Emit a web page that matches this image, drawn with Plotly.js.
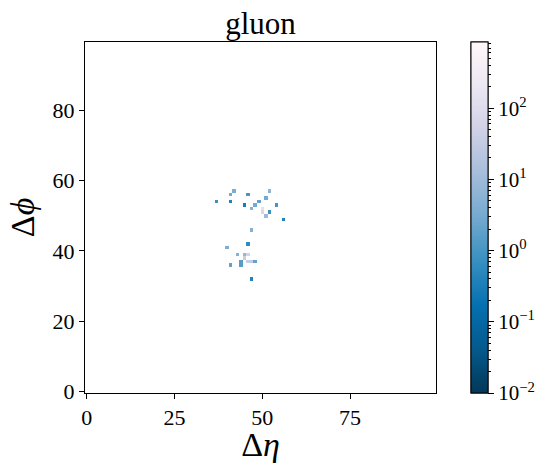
<!DOCTYPE html>
<html><head><meta charset="utf-8">
<script src="https://cdn.plot.ly/plotly-3.0.1.min.js"></script>
<style>html,body{margin:0;padding:0;background:#fff}</style>
</head><body><div id="chart" style="width:548px;height:463px"></div>
<script>
// Non-empty pixels of the jet image (column = Δη index, row = Δφ index)
const etaIdx    = [42, 41, 46, 52, 51, 37, 41, 49, 45, 48, 54, 47, 50, 50, 51, 52, 56, 47, 46, 40, 43, 45, 46, 45, 44, 44, 41, 46, 47, 48, 47];
const phiIdx    = [57, 56, 56, 57, 55, 54, 54, 54, 53, 53, 53, 52, 52, 51, 50, 51, 49, 46, 42, 41, 39, 39, 39, 38, 37, 36, 36, 37, 37, 37, 32];
const intensity = [4, 3, 1, 6, 3, 0.8, 0.4, 2, 0.3, 3, 1, 5, 150, 80, 10, 0.8, 0.4, 5, 0.6, 4, 5, 8, 60, 40, 1.5, 1.5, 2, 40, 30, 2, 0.4];
const gridSize = 100;
const xTickVals = [0, 25, 50, 75];
const yTickVals = [0, 20, 40, 60, 80];
const cbarMin = 0.01, cbarMax = 850;
const cbarMajorExp = [-2, -1, 0, 1, 2];
const cbarMajorText = ['10<sup>−2</sup>', '10<sup>−1</sup>', '10<sup>0</sup>', '10<sup>1</sup>', '10<sup>2</sup>'];
const pubuR = [
  [0.0, '#023858'], [0.125, '#045a8d'], [0.25, '#0570b0'], [0.375, '#3690c0'],
  [0.5, '#74a9cf'], [0.625, '#a6bddb'], [0.75, '#d0d1e6'], [0.875, '#ece7f2'], [1.0, '#fff7fb']
];

const z = [];
for (let r = 0; r < gridSize; r++) { const row = []; for (let c = 0; c < gridSize; c++) row.push(null); z.push(row); }
etaIdx.forEach((c, i) => { z[phiIdx[i]][c] = Math.log10(intensity[i]); });
const axisIdx = Array.from({length: gridSize}, (_, i) => i);

const zmin = Math.log10(cbarMin), zmax = Math.log10(cbarMax);
const minorVals = [];
for (let d = -2; d <= 2; d++) for (let k = 2; k <= 9; k++) { const v = Math.log10(k) + d; if (v <= zmax) minorVals.push(v); }

const FONT = 'Liberation Serif, Times New Roman, serif';
const cbBase = {x: 1.0998, xanchor: 'left', xpad: 0, ypad: 0, y: 0.5, yanchor: 'middle', len: 1, lenmode: 'fraction',
  thickness: 17, thicknessmode: 'pixels', outlinewidth: 1, outlinecolor: '#000', ticks: 'outside', tickcolor: '#000', tickwidth: 1,
  tickmode: 'array'};

const base = {type: 'heatmap', x: axisIdx, y: axisIdx, z: z, zmin: zmin, zmax: zmax, colorscale: pubuR,
  zsmooth: false, hoverinfo: 'skip', xgap: 0, ygap: 0};

const traces = [
  Object.assign({}, base, {showscale: true, colorbar: Object.assign({}, cbBase, {tickvals: minorVals, ticklen: 3, showticklabels: false})}),
  Object.assign({}, base, {showscale: true, colorbar: Object.assign({}, cbBase, {tickvals: cbarMajorExp, ticktext: cbarMajorText, ticklen: 6,
    tickfont: {family: FONT, size: 21, color: '#000'}})})
];

const axisCommon = {range: [-0.5, 99.5], showgrid: false, zeroline: false, showline: true, mirror: true, linecolor: '#000', linewidth: 1,
  ticks: 'outside', ticklen: 5, tickwidth: 1, tickcolor: '#000', tickmode: 'array', tickfont: {family: FONT, size: 22, color: '#000'}};

const layout = {
  width: 548, height: 463, paper_bgcolor: '#fff', plot_bgcolor: '#fff',
  margin: {l: 85, r: 112, t: 42, b: 70},
  title: {text: 'gluon', font: {family: FONT, size: 31, color: '#000'}, x: 0.5, xref: 'paper', y: 0.927, yref: 'container', yanchor: 'bottom'},
  xaxis: Object.assign({}, axisCommon, {tickvals: xTickVals, title: {text: 'Δ<i>η</i>', font: {family: FONT, size: 34, color: '#000'}, standoff: 7}}),
  yaxis: Object.assign({}, axisCommon, {tickvals: yTickVals, title: {text: 'Δ<i>ϕ</i>', font: {family: FONT, size: 34, color: '#000'}, standoff: 7}}),
  showlegend: false
};

Plotly.newPlot('chart', traces, layout, {staticPlot: true, displayModeBar: false});
</script></body></html>
